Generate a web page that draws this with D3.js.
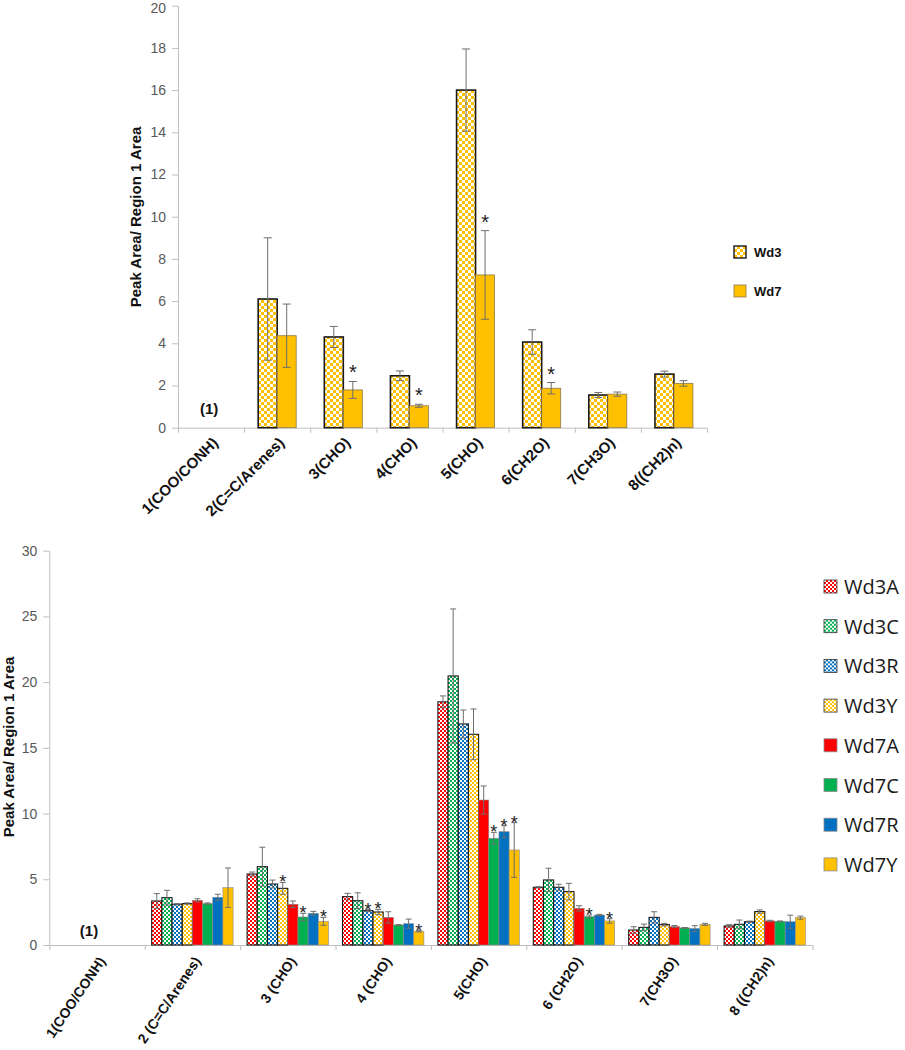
<!DOCTYPE html>
<html>
<head>
<meta charset="utf-8">
<script src="https://cdn.jsdelivr.net/npm/d3@7"></script>
<style>
  body { margin: 0; background: #fff; }
  svg { display: block; }
</style>
</head>
<body>
<svg id="chart" width="905" height="1050"></svg>
<script>
// ---- top chart data ----
var topCategories = ["1(COO/CONH)", "2(C=C/Arenes)", "3(CHO)", "4(CHO)", "5(CHO)", "6(CH2O)", "7(CH3O)", "8((CH2)n)"];
var topSeries = ["Wd3", "Wd7"];
var topWd3 = [null, 6.1, 4.3, 2.46, 16.0, 4.06, 1.55, 2.54];
var topWd3Err = [null, 2.9, 0.5, 0.23, 1.95, 0.58, 0.12, 0.14];
var topWd7 = [null, 4.36, 1.79, 1.04, 7.24, 1.87, 1.59, 2.1];
var topWd7Err = [null, 1.5, 0.4, 0.07, 2.1, 0.27, 0.1, 0.13];
var topStars = [[], [], ["Wd7"], ["Wd7"], ["Wd7"], ["Wd7"], [], []];
var topTicks = [0, 2, 4, 6, 8, 10, 12, 14, 16, 18, 20];

// ---- bottom chart data ----
var botCategories = ["1(COO/CONH)", "2 (C=C/Arenes)", "3 (CHO)", "4 (CHO)", "5(CHO)", "6 (CH2O)", "7(CH3O)", "8 ((CH2)n)"];
var botSeries = ["Wd3A", "Wd3C", "Wd3R", "Wd3Y", "Wd7A", "Wd7C", "Wd7R", "Wd7Y"];
var wd3A = [null, 3.35, 5.4, 3.68, 18.5, 4.39, 1.14, 1.45];
var wd3AErr = [null, 0.56, 0.15, 0.25, 0.45, 0.05, 0.25, 0.1];
var wd3C = [null, 3.6, 5.96, 3.37, 20.47, 4.95, 1.34, 1.57];
var wd3CErr = [null, 0.56, 1.48, 0.6, 5.1, 0.89, 0.25, 0.33];
var wd3R = [null, 3.1, 4.64, 2.61, 16.82, 4.39, 2.1, 1.77];
var wd3RErr = [null, 0.05, 0.3, 0.08, 1.06, 0.23, 0.43, 0.05];
var wd3Y = [null, 3.15, 4.31, 2.51, 16.03, 4.06, 1.55, 2.54];
var wd3YErr = [null, 0.05, 0.45, 0.2, 1.93, 0.63, 0.1, 0.13];
var wd7A = [null, 3.4, 3.1, 2.1, 11.03, 2.79, 1.4, 1.83];
var wd7AErr = [null, 0.12, 0.25, 0.43, 1.07, 0.2, 0.08, 0.05];
var wd7C = [null, 3.15, 2.13, 1.52, 8.12, 2.16, 1.3, 1.8];
var wd7CErr = [null, 0.05, 0.28, 0.03, 0.45, 0.12, 0.03, 0.03];
var wd7R = [null, 3.63, 2.41, 1.62, 8.62, 2.28, 1.25, 1.77];
var wd7RErr = [null, 0.23, 0.15, 0.35, 0.46, 0.05, 0.22, 0.5];
var wd7Y = [null, 4.36, 1.8, 1.04, 7.23, 1.83, 1.57, 2.08];
var wd7YErr = [null, 1.5, 0.3, 0.05, 2.08, 0.17, 0.08, 0.12];
var botStars = [[], [], ["Wd3Y", "Wd7C", "Wd7Y"], ["Wd3R", "Wd3Y", "Wd7Y"], ["Wd7C", "Wd7R", "Wd7Y"], ["Wd7C", "Wd7Y"], [], []];
var botTicks = [0, 5, 10, 15, 20, 25, 30];

var yTitle = "Peak Area/ Region 1 Area";
var missingLabel = "(1)";

// ---- styles ----
var yellow = "#FFC000";
var seriesColor = { A: "#FF0000", C: "#00B050", R: "#0070C0", Y: "#FFC000" };
var axisColor = "#bfbfbf";
var tickText = "#595959";
var errColor = "#6e6e6e";
var boldFont = "'Liberation Sans', Arial, sans-serif";
var tickFont = "'Liberation Sans', Arial, sans-serif";
var legendFont = "'Open Sans', sans-serif";

var svg = d3.select("#chart");
var defs = svg.append("defs");

function makePattern(id, color, cell) {
  var p = defs.append("pattern")
    .attr("id", id)
    .attr("patternUnits", "userSpaceOnUse")
    .attr("width", cell * 2)
    .attr("height", cell * 2);
  p.append("rect").attr("width", cell * 2).attr("height", cell * 2).attr("fill", color);
  p.append("rect").attr("width", cell).attr("height", cell).attr("fill", "#fff");
  p.append("rect").attr("x", cell).attr("y", cell).attr("width", cell).attr("height", cell).attr("fill", "#fff");
}
makePattern("pTopY", yellow, 3);
Object.keys(seriesColor).forEach(function (k) {
  makePattern("pBot" + k, seriesColor[k], 2);
});

// build rows: one record per category/series
function buildRows(categories, series, values, errs, stars) {
  var rows = [];
  categories.forEach(function (c, i) {
    series.forEach(function (s, j) {
      if (values[j][i] == null) return;
      rows.push({ cat: c, series: s, value: values[j][i], err: errs[j][i], star: stars[i].indexOf(s) >= 0 });
    });
  });
  return rows;
}

function drawChart(opt) {
  var g = svg.append("g");
  var y = d3.scaleLinear().domain([0, opt.yMax]).range([opt.y0, opt.y1]);
  var x0 = d3.scaleBand().domain(opt.categories).range([opt.x0, opt.x1]);
  var xIdx = d3.scaleLinear().domain([0, opt.categories.length]).range([opt.x0, opt.x1]);
  var x1 = d3.scaleBand().domain(opt.series).range([0, opt.groupWidth]);
  var offset = (x0.bandwidth() - opt.groupWidth) / 2;

  // y axis
  var yAxis = d3.axisLeft(y).tickValues(opt.ticks).tickSize(6).tickPadding(6).tickSizeOuter(0);
  var gy = g.append("g").attr("transform", "translate(" + opt.x0 + ",0)").call(yAxis);
  gy.select(".domain").attr("stroke", axisColor);
  gy.selectAll(".tick line").attr("stroke", axisColor);
  gy.selectAll(".tick text").attr("fill", tickText).style("font-family", tickFont).style("font-size", "14px");
  // keep the top label inside the picture
  gy.selectAll(".tick text").filter(function (d) { return y(d) < 10; }).attr("dy", "0.5em");

  // x axis: boundary ticks
  var xAxis = d3.axisBottom(xIdx).tickValues(d3.range(0, opt.categories.length + 1)).tickSize(5).tickFormat("").tickSizeOuter(0);
  var gx = g.append("g").attr("transform", "translate(0," + opt.y0 + ")").call(xAxis);
  gx.select(".domain").attr("stroke", axisColor);
  gx.selectAll(".tick line").attr("stroke", axisColor);

  // category labels
  g.selectAll("text.cat")
    .data(opt.categories)
    .enter()
    .append("text")
    .attr("class", "cat")
    .attr("text-anchor", "end")
    .attr("transform", function (d) {
      var cx = x0(d) + x0.bandwidth() / 2 + opt.labelDx;
      return "translate(" + cx + "," + (opt.y0 + opt.labelDy) + ") rotate(" + opt.labelAngle + ")";
    })
    .style("font-family", boldFont)
    .style("font-weight", "bold")
    .style("font-size", opt.labelSize + "px")
    .attr("fill", "#111")
    .text(function (d) { return d; });

  // y title
  g.append("text")
    .attr("text-anchor", "middle")
    .attr("transform", "translate(" + opt.titleX + "," + opt.titleY + ") rotate(-90)")
    .style("font-family", boldFont)
    .style("font-weight", "bold")
    .style("font-size", "15px")
    .attr("fill", "#111")
    .text(yTitle);

  // (1) marker in the empty first category
  g.append("text")
    .attr("text-anchor", "middle")
    .attr("x", x0(opt.categories[0]) + x0.bandwidth() / 2 + opt.missingDx)
    .attr("y", opt.y0 - opt.missingDy)
    .style("font-family", boldFont)
    .style("font-weight", "bold")
    .style("font-size", "15px")
    .attr("fill", "#111")
    .text(missingLabel);

  var rows = opt.rows;
  function bx(d) { return x0(d.cat) + offset + x1(d.series); }
  function cx(d) { return bx(d) + x1.bandwidth() / 2; }

  g.selectAll("rect.bar")
    .data(rows)
    .enter()
    .append("rect")
    .attr("class", "bar")
    .attr("x", bx)
    .attr("width", x1.bandwidth())
    .attr("y", function (d) { return y(d.value); })
    .attr("height", function (d) { return opt.y0 - y(d.value); })
    .attr("fill", opt.fill)
    .attr("stroke", opt.stroke)
    .attr("stroke-width", opt.strokeWidth);

  // error bars
  var eb = g.selectAll("g.err").data(rows).enter().append("g").attr("class", "err")
    .attr("stroke", errColor).attr("stroke-width", 1);
  eb.append("line")
    .attr("x1", cx).attr("x2", cx)
    .attr("y1", function (d) { return y(d.value + d.err); })
    .attr("y2", function (d) { return y(d.value - d.err); });
  [1, -1].forEach(function (sgn) {
    eb.append("line")
      .attr("x1", function (d) { return cx(d) - opt.cap; })
      .attr("x2", function (d) { return cx(d) + opt.cap; })
      .attr("y1", function (d) { return y(d.value + sgn * d.err); })
      .attr("y2", function (d) { return y(d.value + sgn * d.err); });
  });

  // significance stars
  g.selectAll("text.star")
    .data(rows.filter(function (d) { return d.star; }))
    .enter()
    .append("text")
    .attr("class", "star")
    .attr("text-anchor", "middle")
    .attr("x", cx)
    .attr("y", function (d) { return y(d.value + d.err) + opt.starDy; })
    .style("font-family", boldFont)
    .style("font-size", opt.starSize + "px")
    .attr("fill", "#222")
    .text("*");

  return g;
}

// ---- top chart ----
var topRows = buildRows(topCategories, topSeries, [topWd3, topWd7], [topWd3Err, topWd7Err], topStars);
drawChart({
  rows: topRows, categories: topCategories, series: topSeries,
  yMax: 20, ticks: topTicks,
  x0: 178, x1: 707, y0: 427.7, y1: 5.7,
  groupWidth: 38,
  fill: function (d) { return d.series === "Wd3" ? "url(#pTopY)" : yellow; },
  stroke: function (d) { return d.series === "Wd3" ? "#1a1a1a" : "#8c7a4a"; },
  strokeWidth: function (d) { return d.series === "Wd3" ? 1.6 : 0.8; },
  cap: 4, starDy: -2, starSize: 20,
  labelDx: 8, labelDy: 16, labelAngle: -45, labelSize: 15,
  titleX: 141, titleY: 217,
  missingDx: -2, missingDy: 14
});

// top legend
var topLegend = svg.append("g").attr("transform", "translate(734,246)");
topSeries.forEach(function (s, i) {
  var row = topLegend.append("g").attr("transform", "translate(0," + i * 39 + ")");
  row.append("rect").attr("width", 12).attr("height", 12)
    .attr("fill", i === 0 ? "url(#pTopY)" : yellow)
    .attr("stroke", i === 0 ? "#1a1a1a" : "#8c7a4a").attr("stroke-width", i === 0 ? 1.4 : 0.8);
  row.append("text").attr("x", 20).attr("y", 11)
    .style("font-family", boldFont).style("font-weight", "bold").style("font-size", "13px")
    .attr("fill", "#111").text(s);
});

// ---- bottom chart ----
var botRows = buildRows(botCategories, botSeries,
  [wd3A, wd3C, wd3R, wd3Y, wd7A, wd7C, wd7R, wd7Y],
  [wd3AErr, wd3CErr, wd3RErr, wd3YErr, wd7AErr, wd7CErr, wd7RErr, wd7YErr], botStars);
function botFill(s) {
  var k = s.charAt(3);
  return s.indexOf("Wd3") === 0 ? "url(#pBot" + k + ")" : seriesColor[k];
}
drawChart({
  rows: botRows, categories: botCategories, series: botSeries,
  yMax: 30, ticks: botTicks,
  x0: 49.3, x1: 812.5, y0: 945, y1: 550.7,
  groupWidth: 81.4,
  fill: function (d) { return botFill(d.series); },
  stroke: function (d) { return d.series.indexOf("Wd3") === 0 ? "#1a1a1a" : "#8a8a8a"; },
  strokeWidth: function (d) { return d.series.indexOf("Wd3") === 0 ? 1.1 : 0.6; },
  cap: 3, starDy: 6, starSize: 18,
  labelDx: 9, labelDy: 16, labelAngle: -56, labelSize: 14,
  titleX: 14, titleY: 747,
  missingDx: -8, missingDy: 9
});

// bottom legend
var botLegend = svg.append("g").attr("transform", "translate(824,580)");
botSeries.forEach(function (s, i) {
  var row = botLegend.append("g").attr("transform", "translate(0," + i * 39.7 + ")");
  row.append("rect").attr("width", 13).attr("height", 13)
    .attr("fill", botFill(s))
    .attr("stroke", s.indexOf("Wd3") === 0 ? "#333" : "#8a8a8a").attr("stroke-width", 0.8);
  row.append("text").attr("x", 20).attr("y", 14)
    .style("font-family", legendFont).style("font-size", "20px")
    .attr("fill", "#1a1a1a").text(s);
});
</script>
</body>
</html>
